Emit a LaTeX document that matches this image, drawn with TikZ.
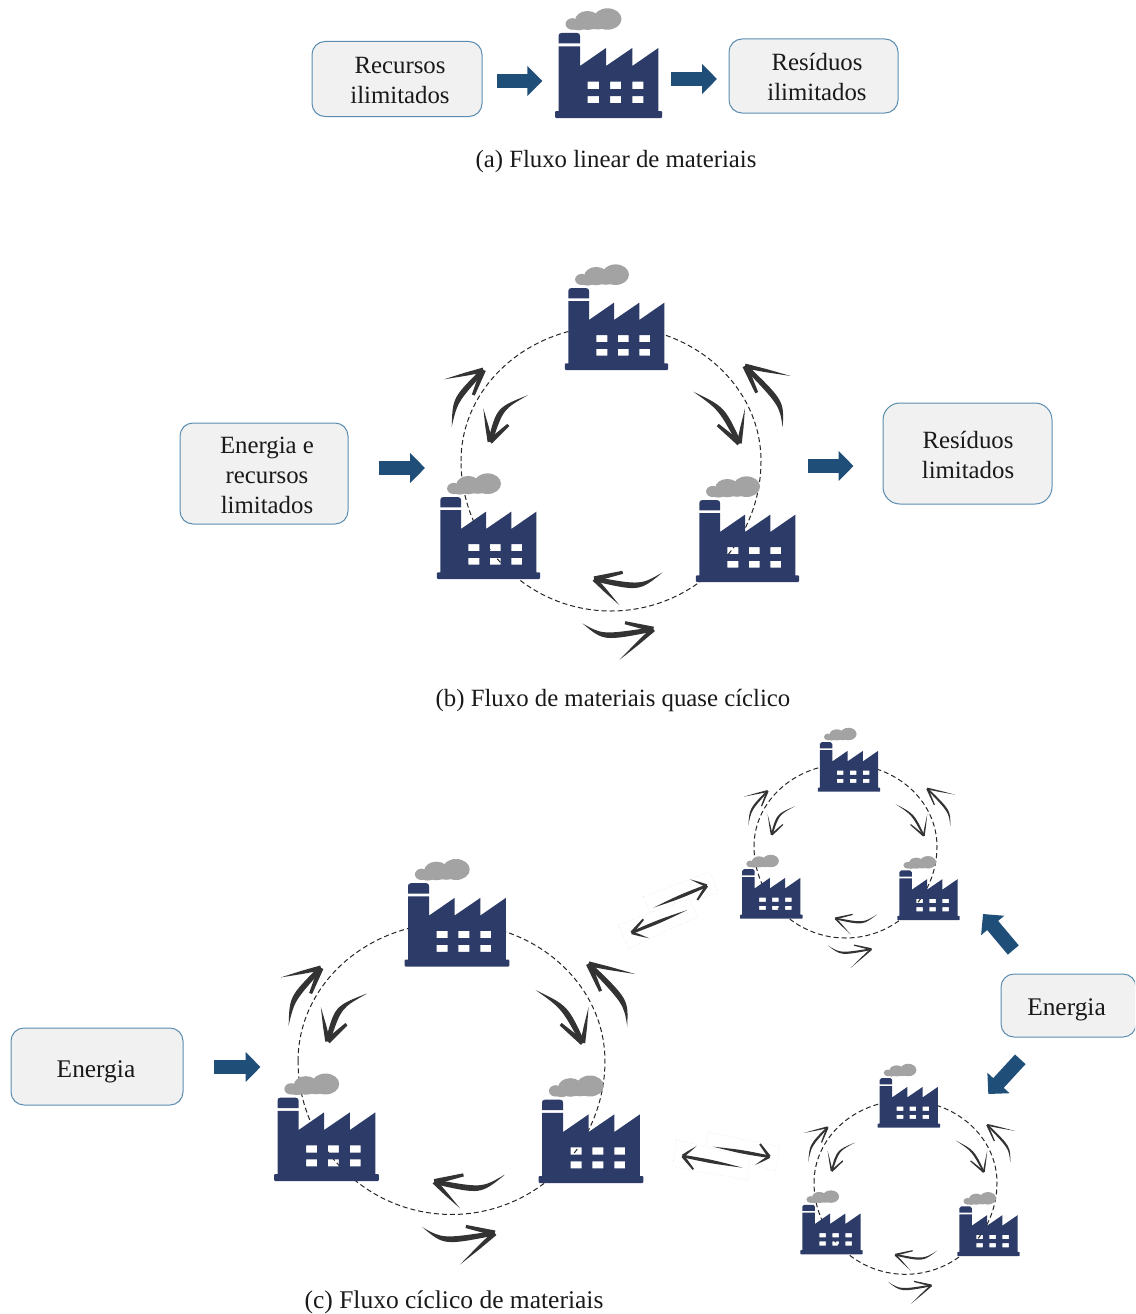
\documentclass[tikz,border=0pt]{standalone}
\usepackage{fontspec}
\setmainfont{Liberation Serif}
\usetikzlibrary{calc,arrows.meta}
\definecolor{factoryblue}{HTML}{2C3B67}
\definecolor{smokegrey}{HTML}{A3A3A3}
\definecolor{flowblue}{HTML}{1F4E79}
\definecolor{brushgrey}{HTML}{333333}
\definecolor{boxfill}{HTML}{F1F1F1}
\definecolor{boxline}{HTML}{5B8DB0}
\tikzset{
  infobox/.style={draw=boxline,line width=1pt,fill=boxfill,rounded corners=13pt,inner sep=0pt},
  boxlabel/.style={inner sep=0pt,align=center,text=black!90,font=\fontsize{24.8}{30}\selectfont},
  biglabel/.style={inner sep=0pt,align=center,text=black!90,font=\fontsize{25.4}{30}\selectfont},
  captiontext/.style={inner sep=0pt,text=black!90,font=\fontsize{24.8}{30}\selectfont},
  flowarrow/.style={draw=flowblue,line width=14.3pt,-{Triangle[length=15pt,width=29.3pt,fill=flowblue]}},
  ringline/.style={draw=black!85,line width=1pt,dash pattern=on 5pt off 3pt},
  pastebox/.style={draw=black!15,line width=0.5pt,dotted,fill=white}
}
\def\bw{2pt}
% #1 tail, #2 control, #3 tip, #4 long barb, #5 short barb
\newcommand\brush[5]{%
  \fill[brushgrey] (#1) .. controls ($(#2)!1.5*\bw!-90:(#3)$) .. ($(#3)!\bw!90:(#2)$) -- ($(#3)!\bw!-90:(#2)$) .. controls ($(#2)!1.5*\bw!90:(#3)$) .. cycle;
  \fill[brushgrey] ($(#3)!1.1*\bw!90:(#4)$) -- ($(#3)!0.45!(#4)!0.75*\bw!90:(#4)$) -- (#4) -- ($(#3)!0.45!(#4)!0.75*\bw!-90:(#4)$) -- ($(#3)!1.1*\bw!-90:(#4)$) -- cycle;
  \fill[brushgrey] ($(#3)!1.2*\bw!90:(#5)$) -- ($(#5)!0.7*\bw!-90:(#3)$) -- ($(#5)!0.7*\bw!90:(#3)$) -- ($(#3)!1.2*\bw!-90:(#5)$) -- cycle;
}
% #1 name, #2 x of base centre, #3 y of base bottom, #4 scale
\newcommand\factory[4]{%
  \begin{scope}[shift={(#2,#3)},scale=#4]
    \coordinate (#1) at (0,0);
    \fill[smokegrey] (-36,-94) ellipse [x radius=7,y radius=5.8];
    \fill[smokegrey] (-21,-97.5) ellipse [x radius=12.5,y radius=9.5];
    \fill[smokegrey] (-30,-92.5) ellipse [x radius=8,y radius=4.8];
    \fill[smokegrey] (-11,-94.5) ellipse [x radius=10,y radius=6];
    \fill[smokegrey] (-1,-99) ellipse [x radius=14,y radius=10.7];
    \fill[factoryblue] (-50,-74.5) -- (-50,-82) .. controls (-50,-84) and (-49,-85) .. (-47,-85) -- (-31.5,-85) .. controls (-29.5,-85) and (-28.5,-84) .. (-28.5,-82) -- (-28.5,-74.5) -- cycle;
    \fill[factoryblue,even odd rule]
      (-50,-71.5) -- (-28.5,-71.5) -- (-28.5,-52) -- (-2.5,-70) -- (-2.5,-52) -- (23.8,-70) -- (23.8,-52) -- (49.8,-70) -- (49.8,-7)
      -- (52.5,-7) -- (53.5,-6) -- (53.5,-1) -- (52.5,0) -- (-52.5,0) -- (-53.5,-1) -- (-53.5,-6) -- (-52.5,-7) -- (-50,-7) -- cycle
      (-20.8,-36.3) rectangle (-9.5,-29) (1.5,-36.3) rectangle (12.5,-29) (23.8,-36.3) rectangle (34.8,-29)
      (-20.8,-22) rectangle (-9.5,-15) (1.5,-22) rectangle (12.5,-15) (23.8,-22) rectangle (34.8,-15);
  \end{scope}}
% #1 name, #2 cx, #3 cy, #4 scale
\newcommand\ringdash[4]{%
  \begin{scope}[shift={(#2,#3)},scale=#4]
    \coordinate (#1) at (0,0);
    \draw[ringline] (-150,0) .. controls (-150,-74.6) and (-82.8,-135) .. (0,-135)
      .. controls (82.8,-135) and (150,-74.6) .. (150,0)
      .. controls (150,82.8) and (82.8,150) .. (0,150)
      .. controls (-82.8,150) and (-150,82.8) .. (-150,0);
  \end{scope}}
\newcommand\ringarrows[4]{%
  \def\bw{#4}%
  \begin{scope}[shift={(#1,#2)},scale=#3,shift={(-611,-461)}]
    \brush{451.7,426.7}{455,400}{483.3,370}{444,379.3}{473.3,395}
    \brush{528.3,395}{500,408.3}{490,441.7}{483.3,408.3}{508.3,425}
    \brush{693.3,391.7}{721.7,408.3}{739.3,443.3}{745,408.3}{717.7,425}
    \brush{782.7,427.3}{781.7,403}{745,366}{790.7,376}{756.7,392.7}
    \brush{662.7,572.3}{640,588.3}{594.3,579}{619.3,605}{622.7,572.3}
    \brush{582.3,623.3}{603,638}{653.3,629.3}{619.3,660}{625,622.7}
  \end{scope}}
\begin{document}
\begin{tikzpicture}[x=1pt,y=-1pt]
\useasboundingbox (0,0) rectangle (1135,1314);
\clip (0,0) rectangle (1135,1314);

% rings behind factories
\ringdash{ringB}{611}{461}{1}
\ringdash{ringC}{451.5}{1061}{1.023}
\ringdash{ringT}{845.5}{846.5}{0.61}
\ringdash{ringL}{905.5}{1182.8}{0.61}

% factories
\factory{fA}{608.5}{118}{1}
\factory{fBt}{616.5}{370}{0.963}
\factory{fBl}{488.5}{579}{0.963}
\factory{fBr}{747.5}{582}{0.963}
\factory{fCt}{457}{966.5}{0.98}
\factory{fCl}{326.5}{1181}{0.98}
\factory{fCr}{591}{1183}{0.98}
\factory{fTt}{849}{791.7}{0.583}
\factory{fTl}{771.3}{918.7}{0.583}
\factory{fTr}{928.5}{920}{0.583}
\factory{fLt}{908.8}{1127.7}{0.583}
\factory{fLl}{831.5}{1254.3}{0.583}
\factory{fLr}{988.5}{1256}{0.583}

% hand-drawn ring arrows
\ringarrows{611}{461}{1}{2.2pt}
\ringarrows{451.5}{1061}{1.023}{2.2pt}
\ringarrows{845.5}{846.5}{0.61}{1.4pt}
\ringarrows{905.5}{1182.8}{0.61}{1.4pt}

% pasted double arrows
\draw[pastebox] (643.3,896.7) -- (710,871.7) -- (718,893) -- (650,912) -- cycle;
\draw[pastebox] (618.3,925) -- (688.3,898.3) -- (698.3,916.7) -- (628.3,948.3) -- cycle;
\draw[pastebox] (709,1132.3) -- (780,1146.7) -- (775,1170.7) -- (704,1152) -- cycle;
\draw[pastebox] (676.7,1140) -- (750,1157.3) -- (747.3,1180) -- (672.7,1166.7) -- cycle;
\def\bw{1.3pt}
\brush{653.3,907.7}{680,896.7}{706.7,885.7}{690,879.3}{697.3,900}
\brush{687.3,910}{659.5,921.3}{631.7,932.7}{649.3,938.3}{643.3,919.3}
\brush{713.3,1146.7}{741.3,1151.7}{769.3,1156.7}{755,1165}{760,1144}
\brush{742.7,1167.7}{712.7,1161.8}{682.7,1156}{696.7,1146}{693.3,1169.3}

% boxes
\node[infobox,minimum width=170pt,minimum height=75pt,label={[boxlabel,xshift=3pt,yshift=-2pt]center:Recursos\\ilimitados}] (recursos) at (397,79) {};
\node[infobox,minimum width=169pt,minimum height=74pt,label={[boxlabel,xshift=3.5pt,yshift=-1pt]center:Resíduos\\ilimitados}] (residuosA) at (813.5,76) {};
\node[infobox,minimum width=168pt,minimum height=101pt,label={[boxlabel,xshift=3pt,yshift=-2pt]center:Energia e\\recursos\\limitados}] (energiaB) at (264,473.5) {};
\node[infobox,minimum width=169pt,minimum height=101pt,rounded corners=17pt,label={[boxlabel,xshift=0.5pt,yshift=-1.5pt]center:Resíduos\\limitados}] (residuosB) at (967.5,453.5) {};
\node[infobox,minimum width=172pt,minimum height=77pt,label={[biglabel,xshift=-1pt,yshift=-5pt]center:Energia}] (energiaC) at (97,1066.5) {};
\node[infobox,minimum width=135pt,minimum height=63pt,label={[biglabel,xshift=-2pt,yshift=-4pt]center:Energia}] (energiaD) at (1068.5,1005.5) {};

% captions
\node[captiontext] (capA) at (616,162) {(a) Fluxo linear de materiais};
\node[captiontext] (capB) at (613,701) {(b) Fluxo de materiais quase cíclico};
\node[captiontext,font=\fontsize{25.5}{30}\selectfont] (capC) at (454,1302.8) {(c) Fluxo cíclico de materiais};

% flow arrows
\coordinate (a1s) at (497,81); \coordinate (a1e) at (542.3,81);
\coordinate (a2s) at (671,79); \coordinate (a2e) at (717,79);
\coordinate (b1s) at (379,468); \coordinate (b1e) at (425,468);
\coordinate (b2s) at (808,466); \coordinate (b2e) at (853.5,466);
\coordinate (c1s) at (214,1067); \coordinate (c1e) at (260.5,1067);
\coordinate (c2s) at (1013.3,950); \coordinate (c2e) at (983,914);
\coordinate (c3s) at (1020.3,1059.3); \coordinate (c3e) at (988.3,1094);
\foreach \p in {a1,a2,b1,b2,c1,c2,c3} \draw[flowarrow] (\p s) -- (\p e);
\end{tikzpicture}
\end{document}
